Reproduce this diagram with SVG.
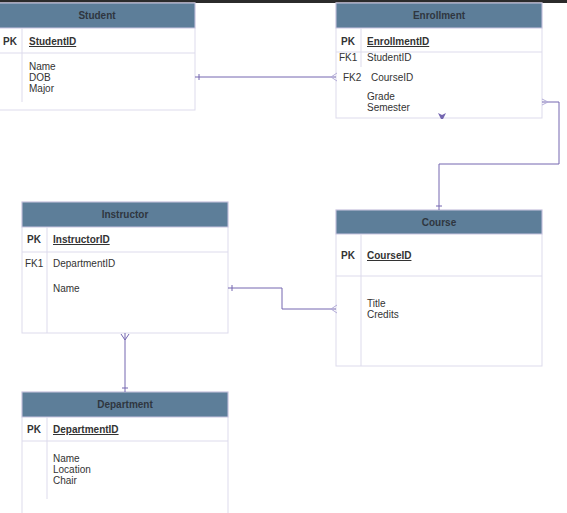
<svg xmlns="http://www.w3.org/2000/svg" width="567" height="513" viewBox="0 0 567 513">
<style>
.hdr{fill:#5d7e99;stroke:#c9c5e0;stroke-width:1}
.box{fill:#fff;stroke:#dddbec;stroke-width:1}
.sep{stroke:#dddbec;stroke-width:1;fill:none}
.ht{font-family:"Liberation Sans",Arial,sans-serif;font-size:10px;font-weight:bold;fill:#2f3640;text-anchor:middle}
.t{font-family:"Liberation Sans",Arial,sans-serif;font-size:10px;fill:#333}
.pk{font-family:"Liberation Sans",Arial,sans-serif;font-size:10px;font-weight:bold;fill:#333}
.key{font-family:"Liberation Sans",Arial,sans-serif;font-size:10px;font-weight:bold;fill:#333;text-decoration:underline}
.c{stroke:#7466b0;stroke-width:1;fill:none}
.cl{stroke:#b3acd8;stroke-width:1;fill:none}
</style>
<rect x="0" y="0" width="567" height="513" fill="#fff"/>
<rect x="0" y="0" width="567" height="3" fill="#2b2b2b"/>

<g id="student">
<rect class="box" x="-1" y="3" width="196" height="107"/>
<rect class="hdr" x="-1" y="3" width="196" height="25"/>
<text class="ht" x="97" y="19">Student</text>
<line class="sep" x1="-1" y1="53" x2="195" y2="53"/>
<line class="sep" x1="22" y1="28" x2="22" y2="102"/>
<text class="pk" x="3" y="45">PK</text>
<text class="key" x="29" y="45">StudentID</text>
<text class="t" x="29" y="70">Name</text>
<text class="t" x="29" y="81">DOB</text>
<text class="t" x="29" y="92">Major</text>
</g>

<g id="enrollment">
<rect class="box" x="336" y="3" width="206" height="115"/>
<rect class="hdr" x="336" y="3" width="206" height="25"/>
<text class="ht" x="439" y="19">Enrollment</text>
<line class="sep" x1="336" y1="52" x2="542" y2="52"/>
<line class="sep" x1="361" y1="28" x2="361" y2="67"/>
<text class="pk" x="341" y="45">PK</text>
<text class="key" x="367" y="45">EnrollmentID</text>
<text class="t" x="339" y="61">FK1</text>
<text class="t" x="367" y="61">StudentID</text>
<text class="t" x="343" y="81">FK2</text>
<text class="t" x="371" y="81">CourseID</text>
<text class="t" x="367" y="100">Grade</text>
<text class="t" x="367" y="111">Semester</text>
</g>

<g id="instructor">
<rect class="box" x="22" y="202" width="206" height="131"/>
<rect class="hdr" x="22" y="202" width="206" height="25"/>
<text class="ht" x="125" y="218">Instructor</text>
<line class="sep" x1="22" y1="252" x2="228" y2="252"/>
<line class="sep" x1="47" y1="227" x2="47" y2="333"/>
<text class="pk" x="27" y="243">PK</text>
<text class="key" x="53" y="243">InstructorID</text>
<text class="t" x="25" y="267">FK1</text>
<text class="t" x="53" y="267">DepartmentID</text>
<text class="t" x="53" y="292">Name</text>
</g>

<g id="course">
<rect class="box" x="336" y="210" width="206" height="156"/>
<rect class="hdr" x="336" y="210" width="206" height="24"/>
<text class="ht" x="439" y="226">Course</text>
<line class="sep" x1="336" y1="276" x2="542" y2="276"/>
<line class="sep" x1="361" y1="234" x2="361" y2="366"/>
<text class="pk" x="341" y="259">PK</text>
<text class="key" x="367" y="259">CourseID</text>
<text class="t" x="367" y="307">Title</text>
<text class="t" x="367" y="318">Credits</text>
</g>

<g id="department">
<rect class="box" x="22" y="392" width="206" height="130"/>
<rect class="hdr" x="22" y="392" width="206" height="25"/>
<text class="ht" x="125" y="408">Department</text>
<line class="sep" x1="22" y1="441" x2="228" y2="441"/>
<line class="sep" x1="47" y1="417" x2="47" y2="499"/>
<text class="pk" x="27" y="433">PK</text>
<text class="key" x="53" y="433">DepartmentID</text>
<text class="t" x="53" y="462">Name</text>
<text class="t" x="53" y="473">Location</text>
<text class="t" x="53" y="484">Chair</text>
</g>

<g id="connectors">
<path class="c" d="M195 77 H336"/>
<path class="c" d="M199 74 V80"/>
<path class="cl" d="M337 73 L331 77 L337 81"/>

<path class="c" d="M542 102 H559 V164 H439 V210"/>
<path class="cl" d="M542 99 L548 102 L542 105"/>
<path class="c" d="M436 206 H442"/>
<path fill="#7466b0" stroke="none" d="M438 113 L442 115 L446 113 L443 119 L441 119 Z"/>

<path class="c" d="M228 288 H282 V309 H336"/>
<path class="c" d="M232 285 V291"/>
<path class="cl" d="M337 305 L331 309 L337 313"/>

<path class="c" d="M125 333 V392"/>
<path class="c" d="M121 334 L125 340 L129 334"/>
<path class="c" d="M122 388 H128"/>
</g>
</svg>
